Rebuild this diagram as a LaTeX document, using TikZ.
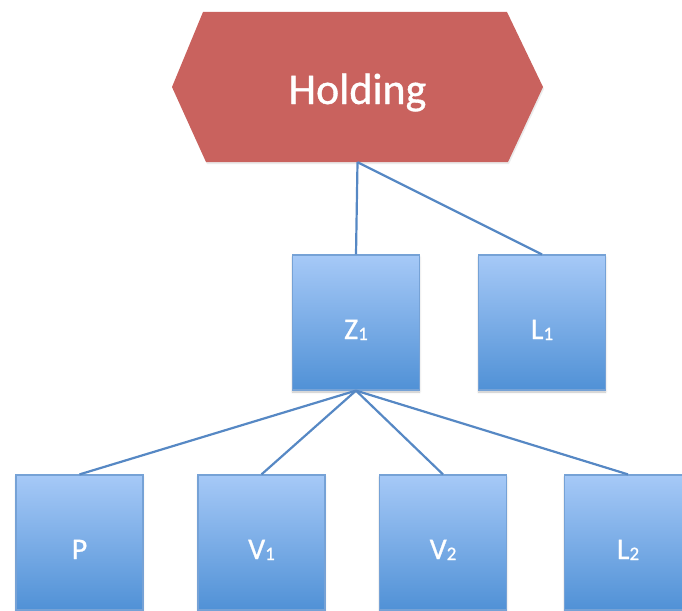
\documentclass[tikz,border=0pt]{standalone}
\usepackage{fontspec}
\setmainfont{Carlito}[FakeBold=0.8]
\usetikzlibrary{shadows.blur}
\definecolor{holdred}{RGB}{201,98,94}
\definecolor{boxtop}{RGB}{166,201,247}
\definecolor{boxbot}{RGB}{80,145,214}
\definecolor{boxedge}{RGB}{118,162,214}
\definecolor{linkblue}{RGB}{86,136,196}
\newcommand{\sublab}[2]{#1\raisebox{-1pt}{\fontsize{19}{19}\selectfont #2}}
\tikzset{
  x=1pt, y=-1pt,
  unit/.style={rectangle, draw=boxedge, line width=1.2pt,
    top color=boxtop, bottom color=boxbot,
    blur shadow={shadow xshift=0pt, shadow yshift=-2pt, shadow blur steps=4,
      shadow blur radius=2pt, shadow opacity=25},
    minimum width=127pt, minimum height=135pt, inner sep=0pt,
    text=white, font=\fontsize{30}{30}\selectfont,
    text height=33pt, text depth=0pt},
  link/.style={draw=linkblue, line width=2.2pt},
  hexnode/.style={rectangle, minimum width=371pt, minimum height=150pt,
    inner sep=0pt, text=white, font=\fontsize{44}{44}\selectfont,
    text height=34pt, text depth=0pt,
    path picture={
      \fill[holdred]
        (path picture bounding box.west)
        -- ([xshift=31pt]path picture bounding box.north west)
        -- ([xshift=-36pt]path picture bounding box.north east)
        -- (path picture bounding box.east)
        -- ([xshift=-35pt]path picture bounding box.south east)
        -- ([xshift=34pt]path picture bounding box.south west)
        -- cycle;}}
}
\begin{document}
\begin{tikzpicture}
\useasboundingbox (0,0) rectangle (682,610);
\clip (0,0) rectangle (682,610);

% faint shadow under the holding hexagon
\fill[black!8] (173,89) -- (203,14) -- (507,14) -- (544,89) -- (509,164) -- (207,164) -- cycle;

% top entity
\node[hexnode] (hold) at (357.5,87) {Holding};

% second level
\node[unit] (z1) at (356,322.5) {\sublab{Z}{1}};
\node[unit] (l1) at (542,322.5) {\sublab{L}{1}};

% third level
\node[unit] (p)  at (79.5,542.5) {P};
\node[unit] (v1) at (261.5,542.5) {\sublab{V}{1}};
\node[unit] (v2) at (443,542.5) {\sublab{V}{2}};
\node[unit] (l2) at (628,542.5) {\sublab{L}{2}};

% ownership links
\draw[link] (hold.south) -- (z1.north);
\draw[link] (hold.south) -- (l1.north);
\draw[link] (z1.south) -- (p.north);
\draw[link] (z1.south) -- (v1.north);
\draw[link] (z1.south) -- (v2.north);
\draw[link] (z1.south) -- (l2.north);
\end{tikzpicture}
\end{document}
